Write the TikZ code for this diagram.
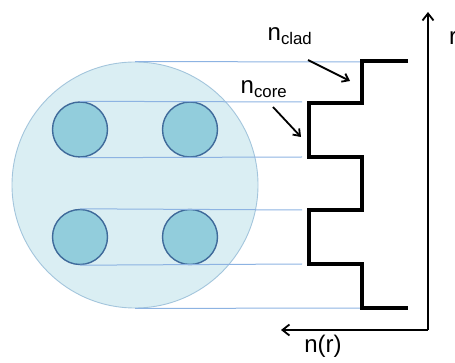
\documentclass[tikz,border=0pt]{standalone}
\usepackage{fontspec}
\setmainfont{Liberation Sans}
\usetikzlibrary{arrows.meta}
\definecolor{cladfill}{HTML}{DAEEF3}
\definecolor{cladedge}{HTML}{A3C5DC}
\definecolor{corefill}{HTML}{92CDDC}
\definecolor{coreedge}{HTML}{3F6A9A}
\definecolor{guide}{HTML}{8DB3E2}
\tikzset{
  cladding/.style={circle, draw=cladedge, fill=cladfill, line width=0.9pt, minimum size=246pt, inner sep=0pt},
  corecirc/.style={circle, draw=coreedge, fill=corefill, line width=1.4pt, minimum size=55pt, inner sep=0pt},
  guideline/.style={draw=guide, line width=1pt},
  profile/.style={draw=black, line width=3.2pt, line join=miter},
  axis/.style={draw=black, line width=1.8pt, -{Straight Barb[length=7pt,width=11pt,line width=1.8pt]}},
  pointer/.style={draw=black, line width=1.8pt, -{Straight Barb[length=6pt,width=9pt,line width=1.8pt]}},
  lbl/.style={font=\fontsize{24}{28}\selectfont, inner sep=0pt}
}
\begin{document}
\begin{tikzpicture}[x=1pt,y=-1pt]
\useasboundingbox (0,0) rectangle (455,363);
% fibre cross-section
\node[cladding] (clad) at (135,185) {};
\node[corecirc] (c1) at (80,129.5) {};
\node[corecirc] (c2) at (190,129.5) {};
\node[corecirc] (c3) at (80,237) {};
\node[corecirc] (c4) at (190,237) {};
% step profile corners
\coordinate (p0) at (408,61);
\coordinate (p1) at (362,61);
\coordinate (p2) at (362,103);
\coordinate (p3) at (309,103);
\coordinate (p4) at (309,157);
\coordinate (p5) at (362,157);
\coordinate (p6) at (362,210);
\coordinate (p7) at (309,210);
\coordinate (p8) at (309,264);
\coordinate (p9) at (362,264);
\coordinate (p10) at (362,308);
\coordinate (p11) at (408,308);
% guide lines
\coordinate (g1) at (362,62);
\coordinate (g2) at (302,102);
\coordinate (g3) at (302,157);
\coordinate (g4) at (302,210);
\coordinate (g5) at (302,264);
\coordinate (g6) at (362,308);
\draw[guideline] (clad.north) -- (g1);
\draw[guideline] (c1.north) -- (g2);
\draw[guideline] (c1.south) -- (g3);
\draw[guideline] (c3.north) -- (g4);
\draw[guideline] (c3.south) -- (g5);
\draw[guideline] (clad.south) -- (g6);
\draw[profile] (p0) -- (p1) -- (p2) -- (p3) -- (p4) -- (p5) -- (p6) -- (p7) -- (p8) -- (p9) -- (p10) -- (p11);
% axes
\coordinate (origin) at (428,330);
\coordinate (ytip) at (428,12);
\coordinate (xtip) at (281,330);
\draw[axis] (origin) -- (ytip);
\draw[axis] (origin) -- (xtip);
\node[lbl, anchor=west] (rlbl) at (449,38) {r};
\node[lbl] (nr) at (323,346) {n(r)};
% labels with pointers
\node[lbl] (nclad) at (290,36) {n\textsubscript{clad}};
\node[lbl] (ncore) at (264,89) {n\textsubscript{core}};
\coordinate (cladtip) at (350,81);
\coordinate (coretip) at (301,137);
\draw[pointer] (308,60) -- (cladtip);
\draw[pointer] (273,107) -- (coretip);
\end{tikzpicture}
\end{document}
